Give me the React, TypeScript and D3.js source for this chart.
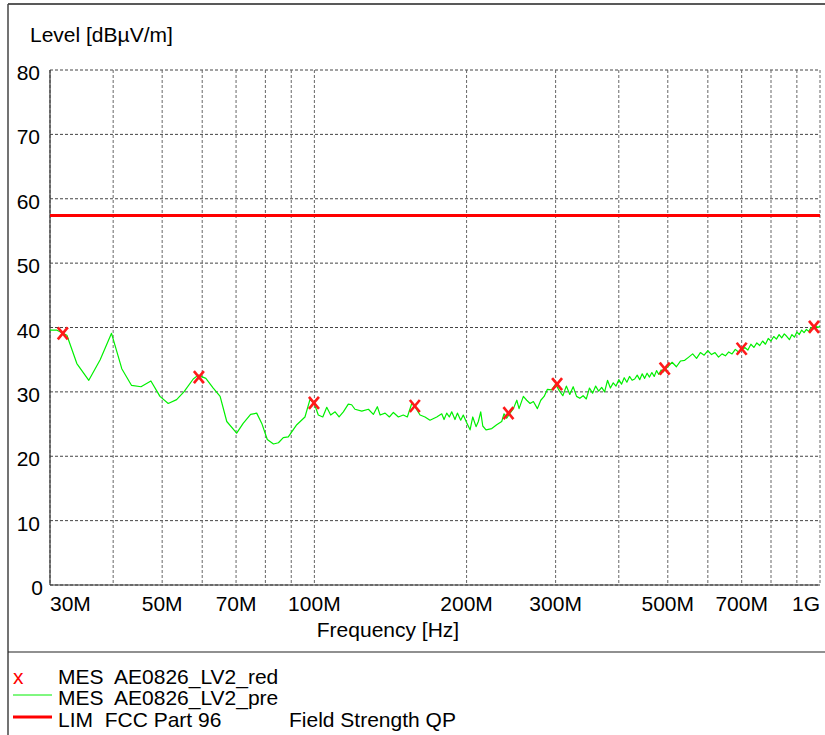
import React from "react";
import * as d3 from "d3";

// Preview scan (MES AE0826_LV2_pre): frequency in MHz and level in dBµV/m
const preFreqMHz = [
  30.0, 30.9, 32.4, 33.9, 35.8, 37.7, 39.7, 41.6, 43.5, 45.4, 47.5, 49.5, 51.4, 53.4, 55.2, 57.6, 58.9, 61.0, 63.1, 65.1,
  67.1, 70.2, 72.3, 74.8, 76.9, 78.7, 80.7, 83.0, 84.9, 86.8, 88.8, 92.3, 95.8, 98.0, 99.8, 101.8, 103.9, 105.8, 107.7, 109.9,
  111.9, 114.1, 116.7, 118.5, 120.3, 124.1, 127.9, 130.8, 133.2, 134.9, 138.0, 140.7, 143.3, 146.6, 149.9, 152.7, 155.8, 158.1, 161.8, 165.5,
  169.3, 174.6, 178.6, 180.5, 182.7, 184.9, 186.9, 189.7, 191.8, 194.7, 197.0, 200.1, 203.2, 205.7, 208.8, 211.0, 213.3, 215.3, 218.5, 224.3,
  229.4, 234.7, 237.2, 240.1, 243.8, 247.5, 251.4, 254.0, 259.0, 263.0, 267.1, 271.1, 276.1, 280.4, 284.7, 289.0, 294.7, 300,
  305, 310, 315, 320, 325, 330, 335, 340, 345, 350, 355, 360, 365, 370, 375, 380, 385, 390, 395, 400,
  405, 410, 415, 420, 425, 430, 435, 440, 445, 450, 455, 460, 465, 470, 475, 480, 485, 490, 495, 500,
  510, 520, 530, 540, 550, 560, 570, 580, 590, 600, 610, 620, 630, 640, 650, 660, 670, 680, 690, 700,
  710, 720, 730, 740, 750, 760, 770, 780, 790, 800, 810, 820, 830, 840, 850, 860, 870, 880, 890, 900,
  910, 920, 930, 940, 950, 960, 970, 980, 990, 1000,
];
const preLevel = [
  39.6, 39.6, 38.8, 34.4, 31.8, 35.0, 39.1, 33.6, 31.0, 30.8, 31.7, 29.3, 28.2, 28.8, 30.0, 32.0, 32.6, 32.1, 30.6, 29.3,
  25.4, 23.6, 25.1, 26.5, 26.7, 25.1, 22.6, 21.9, 22.1, 22.9, 23.0, 24.9, 26.1, 28.8, 28.3, 26.4, 26.1, 27.6, 26.4, 26.9,
  26.1, 26.9, 28.1, 28.0, 27.3, 27.0, 27.3, 26.5, 27.7, 26.4, 26.7, 26.1, 26.8, 26.1, 26.4, 26.1, 28.2, 27.7, 26.4, 26.1,
  25.6, 26.1, 26.6, 25.7, 26.7, 26.1, 26.9, 25.7, 26.7, 25.6, 26.4, 25.2, 24.1, 26.1, 24.6, 25.4, 26.9, 24.7, 24.1, 24.3,
  24.9, 25.4, 26.6, 25.9, 26.7, 27.4, 28.7, 27.4, 29.3, 28.7, 28.2, 28.5, 27.4, 28.7, 29.3, 30.4, 30.3, 31.2,
  30.2, 29.4, 30.9, 29.6, 30.8, 29.3, 29.0, 29.4, 28.9, 30.6, 29.8, 30.9, 30.1, 30.7, 30.0, 31.8, 30.6, 31.4, 30.9, 31.9,
  31.2, 32.2, 31.5, 32.4, 31.8, 32.0, 32.6, 31.9, 32.8, 32.1, 32.9, 32.3, 33.0, 32.4, 33.3, 32.7, 33.4, 33.1, 33.6, 33.9,
  34.6, 33.9, 34.8, 34.9, 35.4, 35.9, 35.2, 36.1, 35.7, 36.4, 35.8, 36.1, 35.4, 35.9, 35.6, 36.2, 35.9, 36.6, 36.2, 36.6,
  36.9, 36.5, 37.4, 36.9, 37.6, 37.2, 37.9, 37.4, 38.3, 37.9, 38.6, 38.2, 38.9, 38.4, 39.0, 38.6, 38.1, 38.9, 38.5, 39.3,
  38.9, 39.6, 39.2, 39.7, 39.4, 40.0, 39.8, 40.3, 40.0, 40.2,
];

// Final measurement (MES AE0826_LV2_red)
const redFreqMHz = [31.8, 59.1, 99.8, 158, 242, 302, 493, 700, 973];
const redLevel = [39.1, 32.3, 28.3, 27.8, 26.7, 31.2, 33.6, 36.7, 40.1];

// Limit (LIM FCC Part 96 Field Strength QP)
const limitFreqMHz = [30, 1000];
const limitLevel = [57.4, 57.4];

const yTicks = [0, 10, 20, 30, 40, 50, 60, 70, 80];
const xGridMHz = [30, 40, 50, 60, 70, 80, 90, 100, 200, 300, 400, 500, 600, 700, 800, 900, 1000];
const xTickMHz = [30, 50, 70, 100, 200, 300, 500, 700, 1000];
const xTickLabels = ["30M", "50M", "70M", "100M", "200M", "300M", "500M", "700M", "1G"];

const legendLabels = ["MES  AE0826_LV2_red", "MES  AE0826_LV2_pre", "LIM  FCC Part 96"];

export default function App() {
  const W = 825, H = 735;
  const left = 50, right = 820, top = 70, bottom = 585;
  const x = d3.scaleLog().domain([30, 1000]).range([left, right]);
  const y = d3.scaleLinear().domain([0, 80]).range([bottom, top]);
  const font = "'Liberation Sans', Arial, sans-serif";
  const fs = 21;

  const line = d3.line<[number, number]>().x((d) => x(d[0])).y((d) => y(d[1]));
  const prePath = line(preFreqMHz.map((f, i) => [f, preLevel[i]] as [number, number])) || "";
  const limPath = line(limitFreqMHz.map((f, i) => [f, limitLevel[i]] as [number, number])) || "";

  return (
    <svg width={W} height={H} style={{ position: "absolute", left: 0, top: 0, background: "#fff" }} fontFamily={font}>
      <defs>
        <clipPath id="plotClip">
          <rect x={left} y={top - 2} width={right - left} height={bottom - top + 4} />
        </clipPath>
      </defs>
      {/* outer frame */}
      <line x1={8} y1={4} x2={W} y2={4} stroke="#222" strokeWidth={1.5} />
      <line x1={8} y1={4} x2={8} y2={H} stroke="#444" strokeWidth={1.5} />
      <line x1={8} y1={652} x2={W} y2={652} stroke="#222" strokeWidth={1.2} />

      <text x={30} y={42} fontSize={fs} fill="#000">Level [dBµV/m]</text>

      {/* grid */}
      {yTicks.map((t) => (
        <line key={"gy" + t} x1={left} x2={right} y1={y(t)} y2={y(t)} stroke="#444" strokeWidth={1} strokeDasharray="3,2" />
      ))}
      {xGridMHz.map((f) => (
        <line key={"gx" + f} x1={x(f)} x2={x(f)} y1={top} y2={bottom} stroke="#666" strokeWidth={1} strokeDasharray="3,2" />
      ))}
      <line x1={left} x2={left} y1={top} y2={bottom} stroke="#333" strokeWidth={1.2} />
      <line x1={left} x2={right} y1={bottom} y2={bottom} stroke="#333" strokeWidth={1.2} />

      {/* y tick labels */}
      {yTicks.map((t) => (
        <text key={"ty" + t} x={t === 0 ? 43 : 40} y={y(t) + 10} fontSize={fs} textAnchor="end" fill="#000">{t}</text>
      ))}
      {/* x tick labels */}
      {xTickMHz.map((f, i) => (
        <text key={"tx" + f} x={x(f)} y={611} fontSize={fs}
          textAnchor={i === 0 ? "start" : i === xTickMHz.length - 1 ? "end" : "middle"} fill="#000">
          {xTickLabels[i]}
        </text>
      ))}
      <text x={388} y={637} fontSize={fs} textAnchor="middle" fill="#000">Frequency [Hz]</text>

      {/* data */}
      <g clipPath="url(#plotClip)">
        <path d={limPath} stroke="#ff0000" strokeWidth={3} fill="none" />
        <path d={prePath} stroke="#00f000" strokeWidth={1.2} fill="none" strokeLinejoin="round" />
        {redFreqMHz.map((f, i) => {
          const cx = x(f), cy = y(redLevel[i]);
          const s = 5;
          return (
            <g key={"m" + i} stroke="#ff1a1a" strokeWidth={2.6}>
              <line x1={cx - s} y1={cy - s - 1} x2={cx + s} y2={cy + s + 1} />
              <line x1={cx - s} y1={cy + s + 1} x2={cx + s} y2={cy - s - 1} />
            </g>
          );
        })}
      </g>

      {/* legend */}
      <text x={13} y={684} fontSize={fs} fill="#ff0000">x</text>
      <text x={58} y={684} fontSize={fs} fill="#000" style={{ whiteSpace: "pre" }}>{legendLabels[0]}</text>
      <line x1={13} x2={52} y1={695} y2={695} stroke="#00ee00" strokeWidth={1} />
      <text x={58} y={705} fontSize={fs} fill="#000" style={{ whiteSpace: "pre" }}>{legendLabels[1]}</text>
      <line x1={13} x2={52} y1={717} y2={717} stroke="#ff0000" strokeWidth={3} />
      <text x={58} y={727} fontSize={fs} fill="#000" style={{ whiteSpace: "pre" }}>{legendLabels[2]}</text>
      <text x={289} y={727} fontSize={fs} fill="#000">Field Strength QP</text>
    </svg>
  );
}
